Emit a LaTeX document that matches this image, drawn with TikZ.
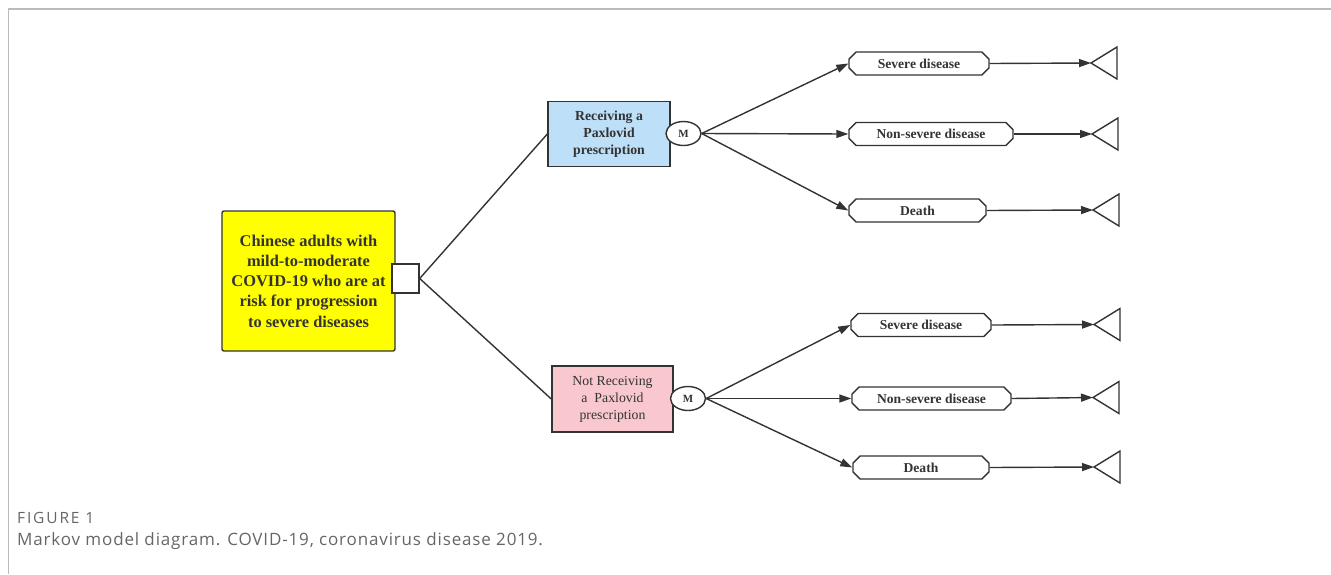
\documentclass[tikz,border=0pt]{standalone}
\usepackage{fontspec}
\setmainfont{Liberation Serif}
\newfontfamily\capfont{Open Sans}
\usetikzlibrary{shapes.misc,shapes.geometric,arrows.meta}
\definecolor{linec}{HTML}{333333}
\definecolor{yellowc}{HTML}{FFFF00}
\definecolor{bluec}{HTML}{BDDFF8}
\definecolor{pinkc}{HTML}{F9C8CE}
\definecolor{framec}{HTML}{BBBBBB}
\definecolor{capc}{HTML}{666666}
\tikzset{
  every node/.style={text=linec},
  conn/.style={draw=linec, line width=1.4pt},
  arr/.style={conn, -{Triangle[length=12pt,width=8pt]}},
  boxnode/.style={draw=linec, line width=1.4pt, align=center, inner sep=0pt},
  mnode/.style={ellipse, draw=linec, line width=1.4pt, minimum width=35pt, minimum height=24pt, inner sep=0pt, fill=white, font=\fontsize{11}{12}\selectfont\bfseries},
  statenode/.style={chamfered rectangle, chamfered rectangle xsep=4pt, draw=linec, line width=1.4pt, minimum height=23pt, inner sep=0pt, font=\fontsize{13.6}{15}\selectfont\bfseries},
  termtri/.style={draw=linec, line width=1.4pt}
}
\begin{document}
\begin{tikzpicture}[x=1pt,y=-1pt]
\useasboundingbox (0,0) rectangle (1331,574);
% frame
\draw[framec, line width=2pt] (8,9) -- (1331,9);
\draw[framec, line width=1pt] (8,9) -- (8,574);
% root
\node[boxnode, rounded corners=2pt, fill=yellowc, minimum width=173pt, minimum height=140pt, font=\fontsize{16.4}{20.2}\selectfont\bfseries] (root) at (308.5,281) {Chinese adults with\\mild-to-moderate\\COVID-19 who are at\\risk for progression\\to severe diseases};
\node[boxnode, fill=white, minimum width=27pt, minimum height=29pt] (dec) at (405.5,278.5) {};
% branches
\node[boxnode, fill=bluec, minimum width=122pt, minimum height=65pt, font=\fontsize{13.8}{17}\selectfont\bfseries] (rec) at (609,134) {Receiving a\\Paxlovid\\prescription};
\node[boxnode, fill=pinkc, minimum width=121pt, minimum height=66pt, font=\fontsize{13.8}{17}\selectfont] (nrec) at (612.5,399) {Not Receiving\\a~~Paxlovid\\prescription};
\node[mnode] (m1) at (683.5,133.5) {M};
\node[mnode] (m2) at (688,398.5) {M};
\draw[conn] (dec.east) -- (rec.west);
\draw[conn] (dec.east) -- (nrec.west);
% upper states
\node[statenode, minimum width=140pt] (s1) at (919,63.5) {Severe disease};
\node[statenode, minimum width=164pt] (n1) at (931,134) {Non-severe disease};
\node[statenode, minimum width=137pt] (d1) at (917.5,210.5) {Death};
% lower states
\node[statenode, minimum width=140pt] (s2) at (921,325) {Severe disease};
\node[statenode, minimum width=159pt] (n2) at (931.5,398.5) {Non-severe disease};
\node[statenode, minimum width=136pt] (d2) at (921,467.5) {Death};
\draw[arr] (m1.east) -- (s1.west);
\draw[arr] (m1.east) -- (n1.west);
\draw[arr] (m1.east) -- (d1.west);
\draw[arr] (m2.east) -- (s2.west);
\draw[arr] (m2.east) -- (n2.west);
\draw[arr] (m2.east) -- (d2.west);
% terminal triangles
\coordinate (t1) at (1091,63);
\coordinate (t2) at (1092,134);
\coordinate (t3) at (1093,210);
\coordinate (t4) at (1094,324.5);
\coordinate (t5) at (1093,397.5);
\coordinate (t6) at (1094,467);
\foreach \t in {t1,t2,t3,t4,t5,t6}{
  \draw[termtri] (\t) -- ++(26,-16) -- ++(0,32) -- cycle;
}
\draw[arr] (s1.east) -- (t1);
\draw[arr] (n1.east) -- (t2);
\draw[arr] (d1.east) -- (t3);
\draw[arr] (s2.east) -- (t4);
\draw[arr] (n2.east) -- (t5);
\draw[arr] (d2.east) -- (t6);
% caption
\node[anchor=west, inner sep=0pt, text=capc, font=\capfont\addfontfeature{LetterSpace=12}\fontsize{15.5}{17}\selectfont] (fig) at (17,518) {FIGURE 1};
\node[anchor=west, inner sep=0pt, text=capc, font=\capfont\addfontfeature{LetterSpace=5}\fontsize{17}{20}\selectfont] (cap) at (17,541) {Markov model diagram. COVID-19, coronavirus disease 2019.};
\end{tikzpicture}
\end{document}
